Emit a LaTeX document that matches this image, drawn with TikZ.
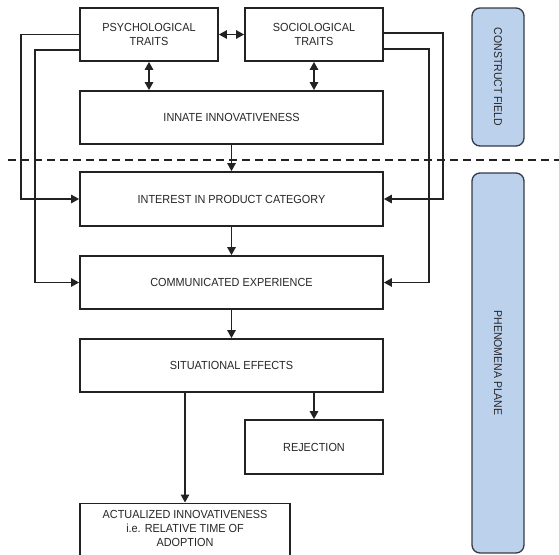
\documentclass[tikz,border=0pt]{standalone}
\usepackage{fontspec}
\setmainfont{Liberation Sans}[FakeStretch=0.93]
\usetikzlibrary{arrows.meta,calc}
\definecolor{ink}{HTML}{222222}
\definecolor{txt}{HTML}{262626}
\definecolor{bluefill}{HTML}{BCD1EC}
\definecolor{blueedge}{HTML}{343A46}
\tikzset{
  box/.style={draw=ink, line width=1.8pt, rectangle, align=center, text=txt,
    font=\fontsize{11.7}{14}\selectfont, inner sep=0pt},
  arr/.style={draw=ink, line width=1.4pt, -{Triangle[length=8pt,width=8.5pt]}},
  darr/.style={draw=ink, line width=1.4pt, {Triangle[length=8pt,width=8.5pt]}-{Triangle[length=8pt,width=8.5pt]}},
  conn/.style={draw=ink, line width=1.3pt, -{Triangle[length=8pt,width=8.5pt]}},
  band/.style={draw=blueedge, fill=bluefill, line width=1.3pt, rounded corners=8pt},
  bandtext/.style={text=txt, rotate=-90, font=\fontsize{11.3}{13}\selectfont}
}
\begin{document}
\begin{tikzpicture}[x=1pt,y=-1pt]
\useasboundingbox (0,0) rectangle (559,554);
\clip (0,0) rectangle (559,554);
% boxes
\node[box, minimum width=138pt, minimum height=53pt] (psych) at (149,34.5) {PSYCHOLOGICAL\\TRAITS};
\node[box, minimum width=138pt, minimum height=53pt] (socio) at (314,34.5) {SOCIOLOGICAL\\TRAITS};
\node[box, minimum width=303pt, minimum height=53pt] (innate) at (231.5,117.5) {INNATE INNOVATIVENESS};
\node[box, minimum width=303pt, minimum height=54pt] (interest) at (231.5,199) {INTEREST IN PRODUCT CATEGORY};
\node[box, minimum width=303pt, minimum height=53pt] (comm) at (231.5,282.5) {COMMUNICATED EXPERIENCE};
\node[box, minimum width=303pt, minimum height=53pt] (sit) at (231.5,365.5) {SITUATIONAL EFFECTS};
\node[box, minimum width=138pt, minimum height=54pt] (rej) at (314,447) {REJECTION};
\node[box, minimum width=210pt, minimum height=60pt, anchor=north] (act) at (185,502.5) {};
\node[text=txt, font=\fontsize{11.7}{14}\selectfont, align=center, anchor=north] (acttext) at (185,507) {ACTUALIZED INNOVATIVENESS\\i.e. RELATIVE TIME OF\\ADOPTION};
% dashed divider
\coordinate (dl) at (8,160);
\coordinate (dr) at (559,160);
\draw[ink, line width=1.3pt, dash pattern=on 8pt off 5pt] (dl) -- (dr);
% side bands
\draw[band] (472,8) rectangle (524,146);
\node[bandtext] (cf) at (498,77) {CONSTRUCT FIELD};
\draw[band] (472,173) rectangle (524,553);
\node[bandtext] (pp) at (498,363) {PHENOMENA PLANE};
% connectors
\draw[darr] (psych.east) -- (socio.west);
\draw[darr] (psych.south) -- (psych.south |- innate.north);
\draw[darr] (socio.south) -- (socio.south |- innate.north);
\draw[arr] (innate.south) -- (interest.north);
\draw[arr] (interest.south) -- (comm.north);
\draw[arr] (comm.south) -- (sit.north);
\draw[arr] (rej.north |- sit.south) -- (rej.north);
\draw[arr] (act.north |- sit.south) -- (act.north);
% feedback lines left
\draw[conn] (psych.west) -- ++(-58,0) |- (interest.west);
\draw[conn] ([yshift=-15.5pt]psych.west) -- ++(-44,0) |- (comm.west);
% feedback lines right
\draw[conn] ([yshift=1.5pt]socio.east) -- ++(59,0) |- (interest.east);
\draw[conn] ([yshift=-14.5pt]socio.east) -- ++(45,0) |- (comm.east);
\end{tikzpicture}
\end{document}
